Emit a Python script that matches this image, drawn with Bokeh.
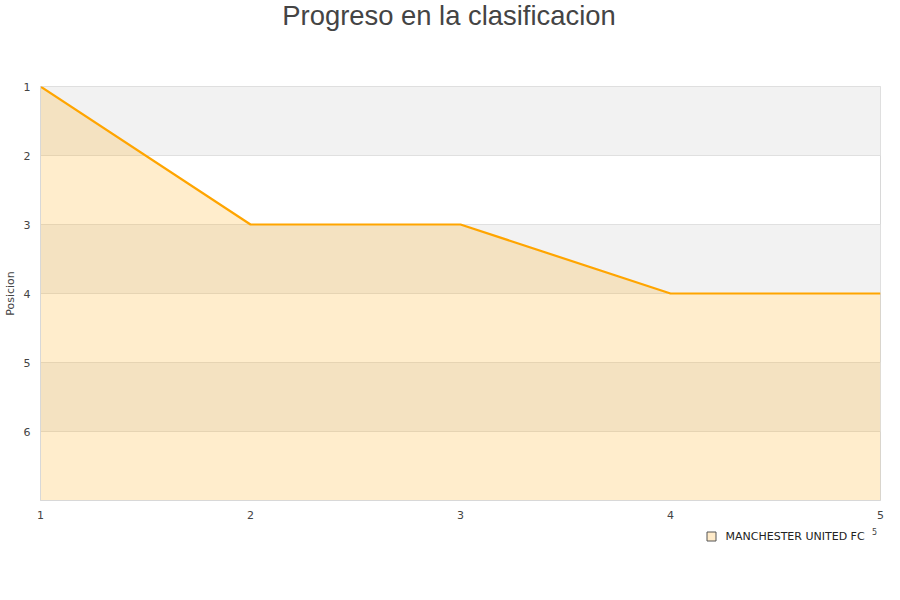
from bokeh.plotting import figure
from bokeh.models import Range1d, FixedTicker, Div
from bokeh.core.properties import value
from bokeh.layouts import column
from bokeh.embed import file_html
from bokeh.resources import INLINE

# Data
jornadas = [1, 2, 3, 4, 5]
posiciones = [1, 3, 3, 4, 4]
y_ticks = [1, 2, 3, 4, 5, 6]
x_ticks = [1, 2, 3, 4, 5]
y_bottom = 7
team = "MANCHESTER UNITED FC"
titulo = "Progreso en la clasificacion"
marca_final = "5"

title_div = Div(
    text=titulo, width=884, height=32, margin=0,
    styles={"font-family": "Liberation Sans", "font-size": "27.4px", "color": "#444444",
            "text-align": "center", "line-height": "32px", "white-space": "nowrap",
            "text-indent": "14px"},
)

p = figure(
    frame_width=840, frame_height=414,
    output_backend="svg", toolbar_location=None,
    x_range=Range1d(jornadas[0], jornadas[-1]), y_range=Range1d(y_bottom, y_ticks[0]),
    min_border_left=28, min_border_right=12, min_border_top=54, min_border_bottom=24,
)

p.background_fill_color = "white"
p.border_fill_color = "white"
p.outline_line_color = "#d8d8d8"
p.outline_line_width = 1

# Axes
p.yaxis.ticker = FixedTicker(ticks=y_ticks)
p.xaxis.ticker = FixedTicker(ticks=x_ticks)
for ax in (p.xaxis[0], p.yaxis[0]):
    ax.major_tick_line_color = None
    ax.minor_tick_line_color = None
    ax.axis_line_color = "#d8d8d8"
    ax.major_label_text_font = "DejaVu Sans"
    ax.major_label_text_font_size = "11px"
    ax.major_label_text_color = "#444444"
p.yaxis.major_label_standoff = 4
p.xaxis.major_label_standoff = 4
p.yaxis.axis_label = "Posicion"
p.yaxis.axis_label_text_font = "DejaVu Sans"
p.yaxis.axis_label_text_font_size = "11px"
p.yaxis.axis_label_text_font_style = "normal"
p.yaxis.axis_label_text_color = "#444444"
p.yaxis.axis_label_standoff = 4

# Grid
p.xgrid.grid_line_color = None
p.ygrid.grid_line_color = "#e0e0e0"

# Alternating bands (1-2, 3-4, 5-6)
band_tops = y_ticks[0::2]
band_bottoms = [t + 1 for t in band_tops]
p.quad(left=jornadas[0], right=jornadas[-1], top=band_tops, bottom=band_bottoms,
       fill_color="#f2f2f2", line_color=None, level="underlay")

# Area + line
p.varea(x=jornadas, y1=posiciones, y2=[y_bottom] * len(jornadas),
        fill_color="#ffa500", fill_alpha=0.2)
p.line(jornadas, posiciones, line_color="#ffa500", line_width=2.2)

# Legend strip (its own small figure, frame aligned with the chart frame)
lg = figure(
    frame_width=840, frame_height=24,
    output_backend="svg", toolbar_location=None,
    x_range=Range1d(0, 840), y_range=Range1d(24, 0),
    x_axis_type=None, y_axis_type=None,
    min_border_left=28, min_border_right=12, min_border_top=0, min_border_bottom=0,
)
lg.outline_line_color = None
lg.xgrid.grid_line_color = None
lg.ygrid.grid_line_color = None
lg.background_fill_color = "white"
lg.border_fill_color = "white"
lg.scatter(x=[671], y=[12], marker="square", size=9,
           fill_color="#ffebc9", line_color="#555555", line_width=1)
lg.text(x=[685], y=[12], text=[team], text_font=value("DejaVu Sans"),
        text_font_size="11px", text_color="#222222", text_baseline="middle",
        text_align="left")
lg.text(x=[834], y=[7], text=[marca_final], text_font=value("DejaVu Sans"),
        text_font_size="8px", text_color="#444444", text_baseline="middle",
        text_align="center")

layout = column(title_div, p, lg, spacing=0)
open("out.html", "w").write(file_html(layout, INLINE))
